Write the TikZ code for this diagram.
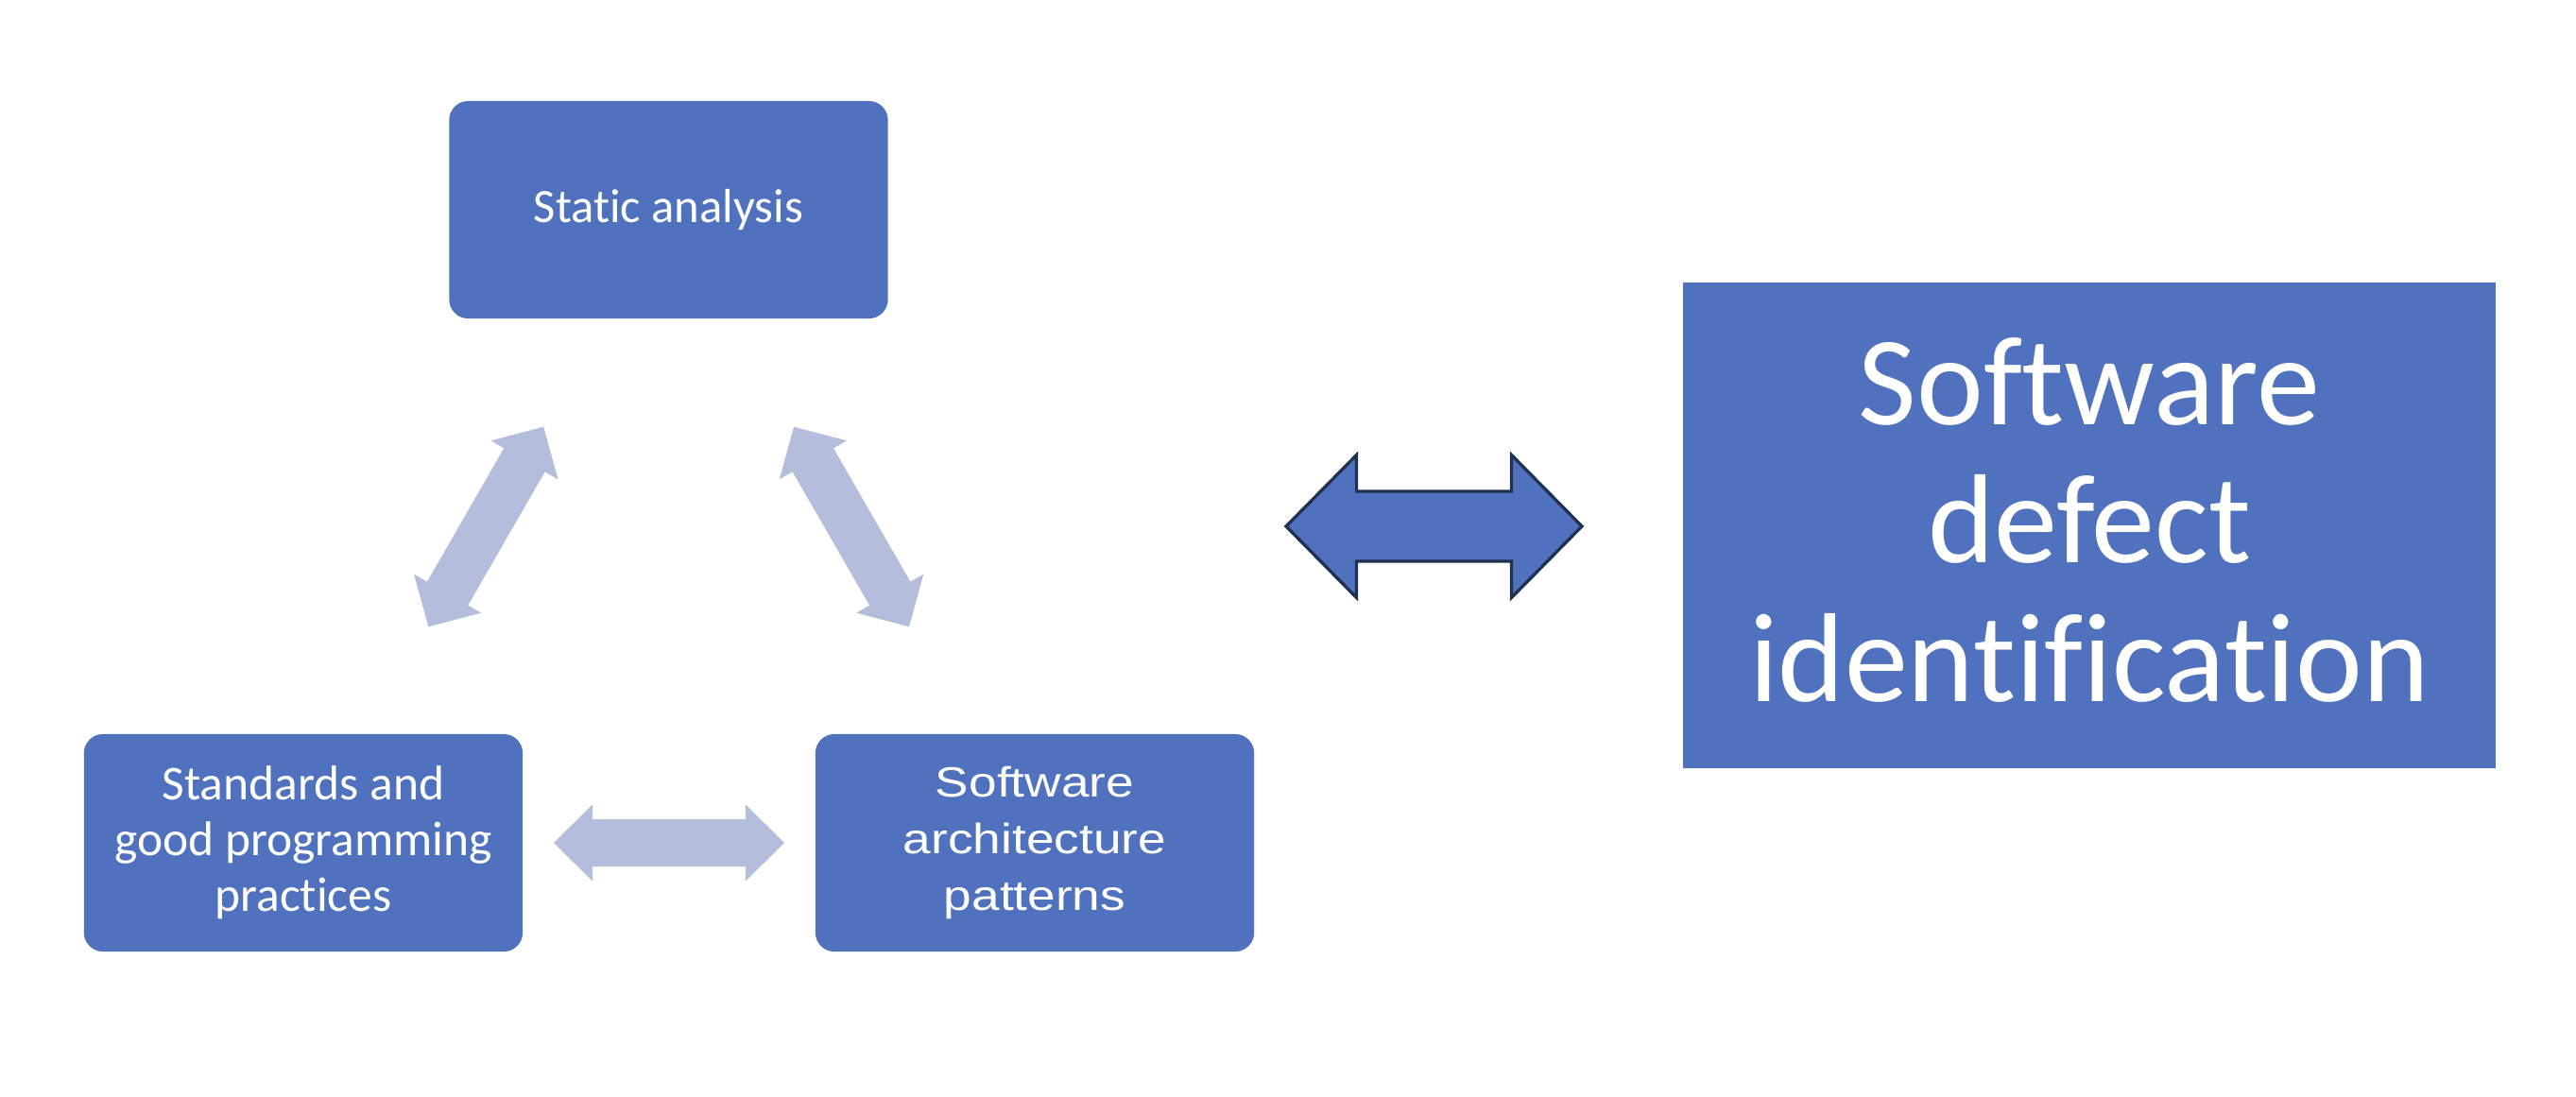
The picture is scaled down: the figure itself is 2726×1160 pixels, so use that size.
\documentclass[tikz,border=0pt]{standalone}
\usepackage{fontspec}
\usepackage{graphicx}
\setmainfont{Carlito}[Ligatures={NoCommon}]
\newfontfamily\arialfont{Liberation Sans}
\usetikzlibrary{calc}
\definecolor{boxblue}{HTML}{5072BE}
\definecolor{lightarrow}{HTML}{B4BEDC}
\definecolor{navyline}{HTML}{1F3050}
% #1 style, #2 tip A, #3 tip B, #4 head length, #5 head half width, #6 shaft half width
\newcommand{\dblarrow}[6]{%
  \path[#1] (#2) -- ($(#2)!#4!(#3)!#5!90:(#3)$) -- ($(#2)!#4!(#3)!#6!90:(#3)$)
    -- ($(#3)!#4!(#2)!#6!-90:(#2)$) -- ($(#3)!#4!(#2)!#5!-90:(#2)$) -- (#3)
    -- ($(#3)!#4!(#2)!#5!90:(#2)$) -- ($(#3)!#4!(#2)!#6!90:(#2)$)
    -- ($(#2)!#4!(#3)!#6!-90:(#3)$) -- ($(#2)!#4!(#3)!#5!-90:(#3)$) -- cycle;}
\newcommand{\wideline}[1]{\scalebox{1.19}[1]{#1}}
\begin{document}
\begin{tikzpicture}[x=0.01cm,y=-0.01cm,
  roundbox/.style={fill=boxblue, draw=none, rounded corners=0.2cm, text=white,
    align=center, inner sep=0pt, minimum width=4.64cm, minimum height=2.30cm},
  bigbox/.style={fill=boxblue, draw=none, text=white, align=center, inner sep=0pt,
    minimum width=8.60cm, minimum height=5.14cm},
  statictext/.style={font=\fontsize{14.4pt}{16.79pt}\selectfont},
  stdtext/.style={font=\fontsize{14.65pt}{16.79pt}\selectfont},
  arialtext/.style={font=\arialfont\fontsize{12.72pt}{17.07pt}\selectfont},
  bigtext/.style={font=\fontsize{38.13pt}{41.54pt}\selectfont},
  softarrow/.style={fill=lightarrow},
  blockarrow/.style={fill=boxblue, draw=navyline, line width=0.033cm, line join=miter}]
\useasboundingbox (0,0) rectangle (2726,1160);

% boxes
\node[roundbox, statictext] (sa) at (707.5,222) {Static analysis};
\node[roundbox, stdtext] (std) at (321,892)
  {Standards and\\good programming\\practices};
\node[roundbox, arialtext] (arch) at (1095,892)
  {\wideline{Software}\\\wideline{architecture}\\\wideline{patterns}};
\node[bigbox, bigtext] (sdi) at (2211,556)
  {Software\\defect\\identification\rule[-0.12cm]{0pt}{0pt}};

% tips of the double arrows
\coordinate (la1) at (575.2,451.7);
\coordinate (la2) at (453.4,663.3);
\coordinate (ra1) at (840.1,451.7);
\coordinate (ra2) at (962.0,663.3);
\coordinate (ba1) at (586,892);
\coordinate (ba2) at (830,892);
\coordinate (ga1) at (1361,557);
\coordinate (ga2) at (1674,557);

% light double arrows of the cycle
\dblarrow{softarrow}{la1}{la2}{0.405cm}{0.41cm}{0.25cm}
\dblarrow{softarrow}{ra1}{ra2}{0.405cm}{0.41cm}{0.25cm}
\dblarrow{softarrow}{ba1}{ba2}{0.41cm}{0.405cm}{0.25cm}

% big double arrow
\dblarrow{blockarrow}{ga1}{ga2}{0.745cm}{0.755cm}{0.37cm}
\end{tikzpicture}
\end{document}
